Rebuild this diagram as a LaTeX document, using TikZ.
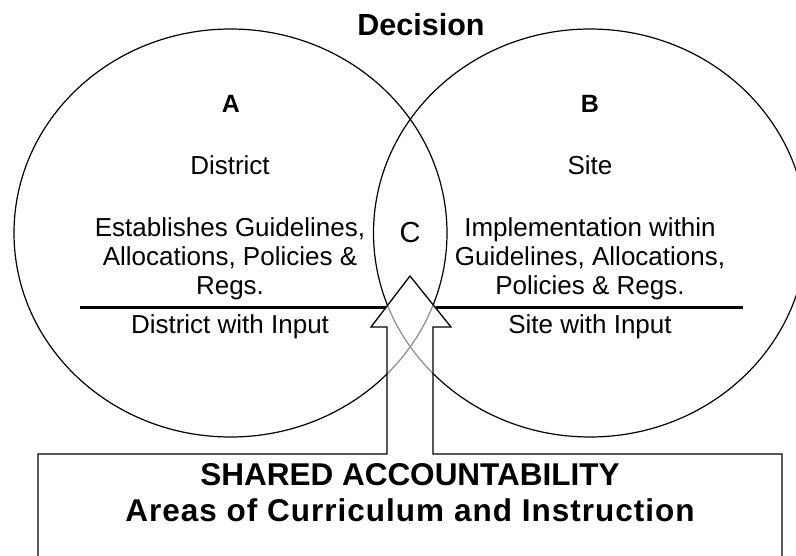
\documentclass[tikz,border=0pt]{standalone}
\usepackage{fontspec}
\setmainfont{Liberation Sans}
\usetikzlibrary{shapes.geometric,calc}
\begin{document}
\begin{tikzpicture}[x=1pt,y=-1pt,
  venn/.style={draw,ellipse,line width=1.2pt,minimum width=433pt,minimum height=408pt,inner sep=0pt},
  txt/.style={anchor=base,inner sep=0pt,font=\fontsize{26}{29}\selectfont},
  bigtxt/.style={anchor=base,inner sep=0pt,font=\fontsize{29}{32}\selectfont},
  lbl/.style={anchor=base,inner sep=0pt,font=\fontsize{25}{29}\bfseries\selectfont},
  head/.style={anchor=base,inner sep=0pt,font=\fontsize{30.5}{34}\bfseries\selectfont},
  boxtxt/.style={anchor=base,inner sep=0pt,font=\fontsize{31.5}{36}\bfseries\selectfont},
  outline/.style={draw=black,line width=1.3pt,line join=miter},
  divider/.style={line width=3pt}
]
\useasboundingbox (0,0) rectangle (796,556);
\clip (0,0) rectangle (796,556);

% Venn ellipses
\node[venn] (ea) at (230.5,233) {};
\node[venn] (eb) at (590,233) {};

% arrow + box outline points
\coordinate (boxbl) at (38,590);
\coordinate (boxtl) at (38,454);
\coordinate (sl) at (387,454);
\coordinate (hl) at (387,327);
\coordinate (hll) at (371,327);
\coordinate (tip) at (410,276);
\coordinate (hrr) at (451,327);
\coordinate (hr) at (433,327);
\coordinate (sr) at (433,454);
\coordinate (boxtr) at (782,454);
\coordinate (boxbr) at (782,590);

% semi-transparent white fill
\fill[white,fill opacity=0.55] (boxbl) -- (boxtl) -- (sl) -- (hl) -- (hll) -- (tip) -- (hrr) -- (hr) -- (sr) -- (boxtr) -- (boxbr) -- cycle;

% divider line
\coordinate (la) at (80,308);
\coordinate (lb) at (743,308);
\coordinate (lx) at ($(hll)!0.3725!(tip)$);
\coordinate (rx) at ($(hrr)!0.3725!(tip)$);
\draw[divider] (la) -- (la -| lx);
\draw[divider] (rx |- lb) -- (lb);

% outline
\draw[outline] (boxbl) -- (boxtl) -- (sl) -- (hl) -- (hll) -- (tip) -- (hrr) -- (hr) -- (sr) -- (boxtr) -- (boxbr);

% texts
\node[head] (title) at (421,36) {Decision};
\node[lbl] (la1) at (231,113) {A};
\node[lbl] (lb1) at (590,113) {B};
\node[txt] (dist) at (230,175) {District};
\node[txt] (site) at (590,175) {Site};
\node[txt] (est1) at (230,237) {Establishes Guidelines,};
\node[txt] (est2) at (230,266) {Allocations, Policies \&};
\node[txt] (est3) at (230,295) {Regs.};
\node[txt] (imp1) at (590,237) {Implementation within};
\node[txt] (imp2) at (590,266) {Guidelines, Allocations,};
\node[txt] (imp3) at (590,295) {Policies \& Regs.};
\node[bigtxt] (lc) at (410,243) {C};
\node[txt] (dwi) at (230,334) {District with Input};
\node[txt] (swi) at (590,334) {Site with Input};
\node[boxtxt] (shared) at (410,485) {SHARED ACCOUNTABILITY};
\node[boxtxt] (areas) at (410,521) {\addfontfeature{LetterSpace=3.2}Areas of Curriculum and Instruction};
\end{tikzpicture}
\end{document}
